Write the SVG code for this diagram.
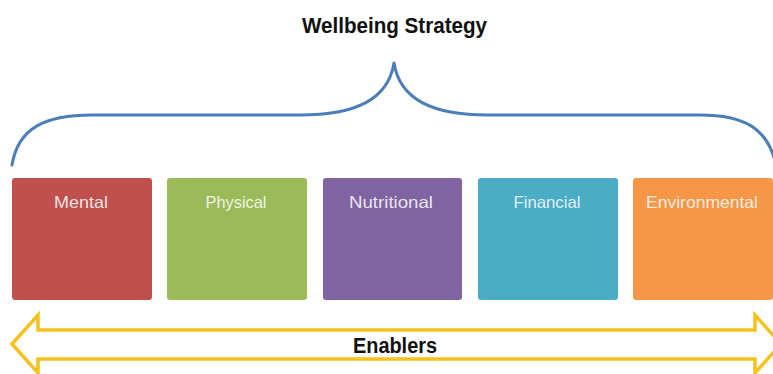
<svg xmlns="http://www.w3.org/2000/svg" width="773" height="374" viewBox="0 0 773 374">
  <style>
    .title { font-family: "Liberation Sans", Arial, sans-serif; font-weight: bold; font-size: 22px; fill: #111; }
    .label { font-family: "Liberation Sans", Arial, sans-serif; font-size: 16.5px; fill: #ffffff; fill-opacity: 0.85; text-anchor: middle; }
    .box { stroke: none; }
    .brace { fill: none; stroke: #4a7ebb; stroke-width: 3; stroke-linecap: round; stroke-linejoin: round; }
    .enabler { fill: #ffffff; stroke: #f6c11d; stroke-width: 3.5; stroke-linejoin: miter; }
  </style>
  <rect width="773" height="374" fill="#ffffff"/>

  <text class="title" x="302" y="33" textLength="185" lengthAdjust="spacingAndGlyphs">Wellbeing Strategy</text>

  <g id="connectors">
    <!-- curly brace spanning all five pillars -->
    <path id="brace" class="brace" d="M12,165 C18,128 45,115 92,115 L300,115 C355,115 388,100 394,63 C400,100 433,115 488,115 L700,115 C744,115 768,128 776,165"/>
    <!-- double-headed enablers arrow -->
    <path id="enablers-arrow" class="enabler" d="M12,344 L38,315 L38,330 L755,330 L755,315 L781,344 L755,373 L755,359 L38,359 L38,373 Z"/>
  </g>
  <text class="title" x="353" y="353" textLength="84" lengthAdjust="spacingAndGlyphs">Enablers</text>

  <g id="mental">
    <rect class="box" x="12" y="178" width="140" height="122" rx="3" fill="#c0504d"/>
    <text class="label" x="81" y="208" textLength="54" lengthAdjust="spacingAndGlyphs">Mental</text>
  </g>
  <g id="physical">
    <rect class="box" x="167" y="178" width="140" height="122" rx="3" fill="#9bbb59"/>
    <text class="label" x="236" y="208" textLength="61" lengthAdjust="spacingAndGlyphs">Physical</text>
  </g>
  <g id="nutritional">
    <rect class="box" x="323" y="178" width="139" height="122" rx="3" fill="#8064a2"/>
    <text class="label" x="391" y="208" textLength="84" lengthAdjust="spacingAndGlyphs">Nutritional</text>
  </g>
  <g id="financial">
    <rect class="box" x="478" y="178" width="140" height="122" rx="3" fill="#4bacc6"/>
    <text class="label" x="547" y="208" textLength="67" lengthAdjust="spacingAndGlyphs">Financial</text>
  </g>
  <g id="environmental">
    <rect class="box" x="633" y="178" width="140" height="122" rx="3" fill="#f79646"/>
    <text class="label" x="702" y="208" textLength="112" lengthAdjust="spacingAndGlyphs">Environmental</text>
  </g>
</svg>
